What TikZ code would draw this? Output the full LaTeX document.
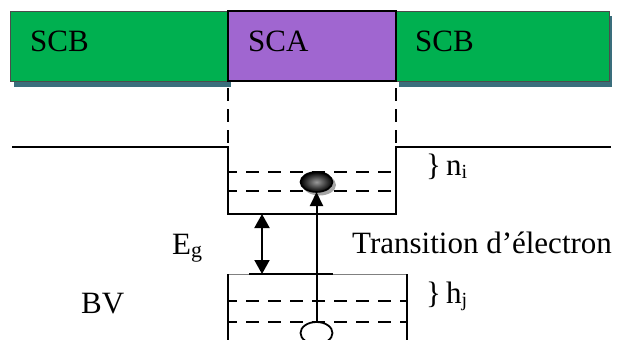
\documentclass[tikz,border=0pt]{standalone}
\usepackage{fontspec}
\setmainfont{Liberation Serif}
\usetikzlibrary{arrows.meta}
\definecolor{scbgreen}{RGB}{0,176,80}
\definecolor{scapurple}{RGB}{160,102,208}
\definecolor{shadowteal}{RGB}{58,110,124}
\tikzset{
  lbl/.style={anchor=base west, inner sep=0pt, font=\fontsize{31}{36}\selectfont},
  level/.style={line width=1.4pt},
  wall/.style={line width=1.9pt},
  thinedge/.style={line width=0.8pt, draw=gray},
  dashlvl/.style={line width=1.8pt, dash pattern=on 13pt off 9pt},
  dashwall/.style={line width=1.8pt, dash pattern=on 13pt off 8pt},
  bigarrow/.style={line width=2pt, -{Triangle[width=13pt,length=14pt]}},
  dblarrow/.style={line width=2pt, {Triangle[width=15pt,length=14pt]}-{Triangle[width=15pt,length=14pt]}},
}
\begin{document}
\begin{tikzpicture}[x=1pt,y=-1pt]
\useasboundingbox (0,0) rectangle (622,340);
\clip (0,0) rectangle (622,340);
% shadows
\fill[shadowteal] (14,16) rectangle (231,87);
\fill[shadowteal] (399,16) rectangle (612,87);
% boxes
\draw[fill=scbgreen, draw=black!70, line width=0.8pt] (10,11) rectangle (228,81);
\draw[fill=scbgreen, draw=black!70, line width=0.8pt] (396,11) rectangle (609,81);
\draw[fill=scapurple, draw=black, line width=1.6pt] (228,11) rectangle (396,81);
\node[lbl] (scb1) at (30,51) {SCB};
\node[lbl] (sca) at (248,51) {SCA};
\node[lbl] (scb2) at (415,51) {SCB};
% dashed vertical projections
\draw[dashwall] (228,88) -- (228,147);
\draw[dashwall] (396,88) -- (396,147);
% conduction band levels and well
\draw[level] (12,147) -- (228,147);
\draw[level] (396,147) -- (611,147);
\draw[wall] (228,146) -- (228,214) -- (396,214) -- (396,146);
% dashed levels in well
\draw[dashlvl, dash phase=4pt] (228,172) -- (393,172);
\draw[dashlvl, dash phase=4pt] (228,191) -- (393,191);
% valence band box
\draw[thinedge] (228,274) -- (407,274);
\draw[level] (249,274) -- (333,274);
\draw[wall] (228,274) -- (228,341);
\draw[wall] (407,274) -- (407,341);
\draw[dashlvl, dash phase=4pt] (228,301) -- (406,301);
\draw[dashlvl, dash phase=4pt] (228,322) -- (406,322);
% Eg double arrow
\coordinate (cbbot) at (262,214);
\coordinate (vbtop) at (262,274);
\draw[dblarrow] (cbbot) -- (vbtop);
% hole and electron
\draw[line width=1.8pt, fill=white] (316.5,333) ellipse (16 and 11);
\fill[gray!70] (319.5,185) ellipse (16.5 and 10.5);
\shade[inner color=gray!80, outer color=black, draw=black, line width=1.6pt] (316.5,182) ellipse (16 and 10);
\coordinate (holetop) at (316.5,322);
\coordinate (elbot) at (316.5,192);
\draw[bigarrow] (holetop) -- (elbot);
% labels
\node[lbl] (eg) at (172,254) {E\raisebox{-3pt}{\fontsize{22}{24}\selectfont g}};
\node[lbl] (bv) at (81,313) {BV};
\node[lbl] (tr) at (352,253) {Transition d’électron};
\node[lbl] (ni) at (426,175) {\}\,n\raisebox{-3pt}{\fontsize{20}{24}\selectfont i}};
\node[lbl] (hj) at (426,303) {\}\,h\raisebox{-3pt}{\fontsize{20}{24}\selectfont j}};
\end{tikzpicture}
\end{document}
